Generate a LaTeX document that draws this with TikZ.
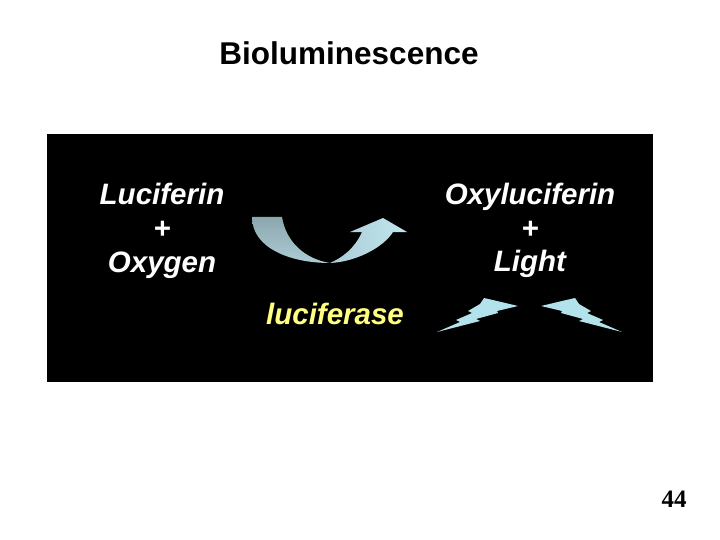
\documentclass[tikz,border=0pt]{standalone}
\usepackage{fontspec}
\setmainfont{Liberation Sans}
\newfontfamily\pagefont{Liberation Serif}
\usetikzlibrary{positioning}

\definecolor{lucyellow}{RGB}{255,255,128}
\definecolor{arrowdark}{RGB}{140,166,174}
\definecolor{arrowmid}{RGB}{172,204,212}
\definecolor{arrowlight}{RGB}{192,230,238}
\definecolor{boltblue}{RGB}{178,226,236}

\tikzset{
  chem/.style={text=white, inner sep=0pt, anchor=base,
    font=\fontsize{29.5}{32}\selectfont\bfseries\itshape},
  bolt/.pic={
    \fill[boltblue] (484,298) -- (497,301) -- (518,306) -- (497,311)
      -- (498,313) -- (476,319) -- (480,321) -- (437,332) -- (460,322)
      -- (456,320) -- (472,313) -- (468,311) -- (480,304) -- cycle;
  },
}

\begin{document}
\begin{tikzpicture}[x=1pt,y=-1pt]
      \useasboundingbox (0,0) rectangle (720,540);

      \node (title) [anchor=base, inner sep=0pt,
        font=\fontsize{31.5}{34}\selectfont\bfseries] at (349,65) {Bioluminescence};

      % black panel
      \fill[black] (47,134) rectangle (653,382);

      % left side
      \node (luciferin) [chem] at (162,205) {Luciferin};
      \node (plusL) [chem, below=34pt of luciferin.base, anchor=base] {+};
      \node (oxygen) [chem, below=33pt of plusL.base, anchor=base] {Oxygen};

      % right side
      \node (oxyluciferin) [chem] at (530,205) {Oxyluciferin};
      \node (plusR) [chem, below=34pt of oxyluciferin.base, anchor=base] {+};
      \node (light) [chem, below=32pt of plusR.base, anchor=base] {Light};

      \node (luciferase) [chem, text=lucyellow] at (335,324) {luciferase};

      % curved arrow
      \shade[top color=arrowdark, bottom color=arrowmid]
        (252,217) .. controls (252,248) and (290,263) .. (330,263)
        .. controls (305,259) and (286,242) .. (282,217) -- cycle;
      \shade[left color=arrowmid, right color=arrowlight]
        (330,263) .. controls (355,262) and (383,248) .. (393,232)
        -- (407,232) -- (383,218) -- (350,232) -- (362,232)
        .. controls (355,248) and (342,258) .. (330,263) -- cycle;

      % light flashes
      \pic (boltL) at (0,0) {bolt};
      \pic (boltR) [xscale=-1] at (1059,0) {bolt};

      \node (pagenum) [anchor=base, inner sep=0pt,
        font=\pagefont\fontsize{25}{28}\selectfont\bfseries] at (674,507) {44};
    \end{tikzpicture}
\end{document}
